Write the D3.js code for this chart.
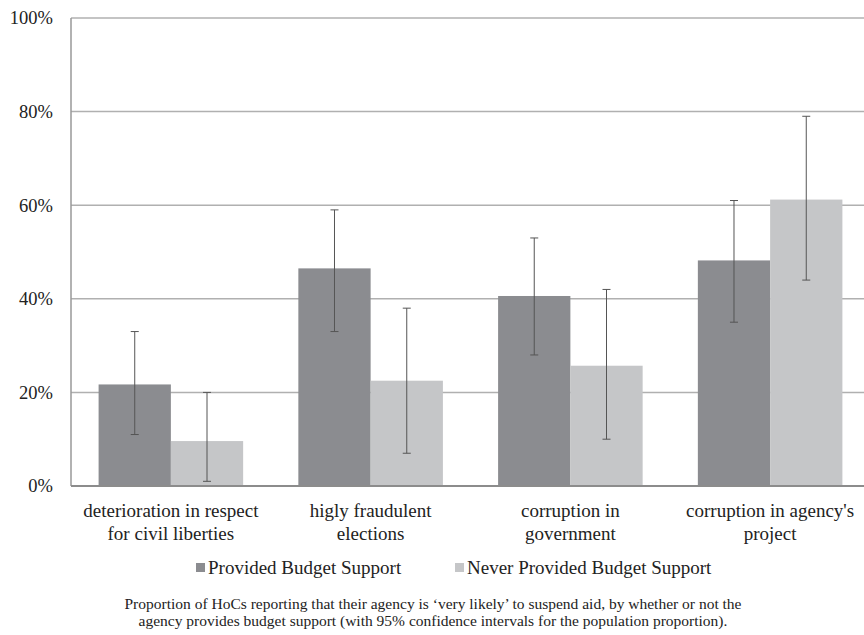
<!DOCTYPE html>
<html>
<head>
<meta charset="utf-8">
<script src="https://cdn.jsdelivr.net/npm/d3@7"></script>
<style>
  body { margin: 0; background: #fff; }
</style>
</head>
<body>
<div id="chart"></div>
<script>
// data
var categories = [
    ["deterioration in respect", "for civil liberties"],
    ["higly fraudulent", "elections"],
    ["corruption in", "government"],
    ["corruption in agency's", "project"]
];
var seriesNames = ["Provided Budget Support", "Never Provided Budget Support"];
var provided = [0.217, 0.465, 0.406, 0.482];
var providedLow = [0.11, 0.33, 0.28, 0.35];
var providedHigh = [0.33, 0.59, 0.53, 0.61];
var never = [0.096, 0.225, 0.257, 0.612];
var neverLow = [0.01, 0.07, 0.10, 0.44];
var neverHigh = [0.20, 0.38, 0.42, 0.79];
var yTicks = [0, 0.2, 0.4, 0.6, 0.8, 1];
var colors = ["#8b8c90", "#c5c6c8"];

const serif = "'Liberation Serif', 'Times New Roman', Times, 'DejaVu Serif', serif";

let width = 864, height = 635;
let plot = { left: 71, right: 870, top: 18, bottom: 486 };

let svg = d3.select("#chart")
    .append("svg")
    .attr("width", width)
    .attr("height", height)
    .style("font-family", serif);

let catKeys = categories.map((c, i) => "c" + i);
let x0 = d3.scaleBand().domain(catKeys).range([plot.left, plot.right]);
let x1 = d3.scaleBand().domain(seriesNames).range([27.6, x0.bandwidth() - 27.6]);
let y = d3.scaleLinear().domain([0, 1]).range([plot.bottom, plot.top]);

// gridlines
svg.append("g")
    .selectAll("line")
    .data(yTicks.filter(t => t > 0))
    .enter()
    .append("line")
    .attr("x1", plot.left)
    .attr("x2", plot.right)
    .attr("y1", d => y(d))
    .attr("y2", d => y(d))
    .attr("stroke", "#b0b0b0")
    .attr("stroke-width", 1.5);

// y axis labels
let yAxis = d3.axisLeft(y).tickValues(yTicks).tickFormat(d => Math.round(d * 100) + "%").tickSize(0).tickPadding(18);
let gy = svg.append("g")
    .attr("transform", "translate(" + plot.left + ",0)")
    .call(yAxis)
    .attr("font-family", null)
    .attr("font-size", null);
gy.select(".domain").remove();
gy.selectAll("text")
    .style("font-family", serif)
    .style("font-size", "18.5px")
    .attr("fill", "#222");

// bars
let rows = categories.map((c, i) => ({
    key: catKeys[i],
    vals: [
        { s: seriesNames[0], v: provided[i], lo: providedLow[i], hi: providedHigh[i], c: colors[0] },
        { s: seriesNames[1], v: never[i], lo: neverLow[i], hi: neverHigh[i], c: colors[1] }
    ]
}));

let groups = svg.append("g")
    .selectAll("g")
    .data(rows)
    .enter()
    .append("g")
    .attr("transform", d => "translate(" + x0(d.key) + ",0)");

groups.selectAll("rect")
    .data(d => d.vals)
    .enter()
    .append("rect")
    .attr("x", d => x1(d.s))
    .attr("y", d => y(d.v))
    .attr("width", x1.bandwidth())
    .attr("height", d => y(0) - y(d.v))
    .attr("fill", d => d.c);

// error bars
let err = groups.selectAll("g.err")
    .data(d => d.vals)
    .enter()
    .append("g")
    .attr("class", "err")
    .attr("stroke", "#555")
    .attr("stroke-width", 1);
err.append("line")
    .attr("x1", d => x1(d.s) + x1.bandwidth() / 2)
    .attr("x2", d => x1(d.s) + x1.bandwidth() / 2)
    .attr("y1", d => y(d.lo))
    .attr("y2", d => y(d.hi));
err.append("line")
    .attr("x1", d => x1(d.s) + x1.bandwidth() / 2 - 4)
    .attr("x2", d => x1(d.s) + x1.bandwidth() / 2 + 4)
    .attr("y1", d => y(d.lo))
    .attr("y2", d => y(d.lo));
err.append("line")
    .attr("x1", d => x1(d.s) + x1.bandwidth() / 2 - 4)
    .attr("x2", d => x1(d.s) + x1.bandwidth() / 2 + 4)
    .attr("y1", d => y(d.hi))
    .attr("y2", d => y(d.hi));

// axis lines
svg.append("line")
    .attr("x1", plot.left).attr("x2", plot.left)
    .attr("y1", plot.top).attr("y2", plot.bottom)
    .attr("stroke", "#999").attr("stroke-width", 1.5);
svg.append("line")
    .attr("x1", plot.left).attr("x2", plot.right)
    .attr("y1", plot.bottom).attr("y2", plot.bottom)
    .attr("stroke", "#8c8c8c").attr("stroke-width", 2);

// category labels
let catLabels = svg.append("g")
    .selectAll("text")
    .data(rows)
    .enter()
    .append("text")
    .attr("text-anchor", "middle")
    .style("font-size", "19px")
    .attr("fill", "#222")
    .attr("x", d => x0(d.key) + x0.bandwidth() / 2)
    .attr("y", 517);
catLabels.selectAll("tspan")
    .data((d, i) => categories[i])
    .enter()
    .append("tspan")
    .attr("x", function () { return d3.select(this.parentNode).attr("x"); })
    .attr("dy", (d, i) => i === 0 ? 0 : 23)
    .text(d => d);

// legend
let legendX = [196, 455];
let legend = svg.append("g")
    .selectAll("g")
    .data(seriesNames)
    .enter()
    .append("g")
    .attr("transform", (d, i) => "translate(" + legendX[i] + ",568)");
legend.append("rect")
    .attr("x", 0).attr("y", -5)
    .attr("width", 9).attr("height", 9)
    .attr("fill", (d, i) => colors[i]);
legend.append("text")
    .attr("x", 12).attr("y", 6)
    .attr("fill", "#222")
    .style("font-size", "19px")
    .text(d => d);

// caption
let caption = [
    "Proportion of HoCs reporting that their agency is \u2018very likely\u2019 to suspend aid, by whether or not the",
    "agency provides budget support (with 95% confidence intervals for the population proportion)."
];
svg.append("g")
    .selectAll("text")
    .data(caption)
    .enter()
    .append("text")
    .attr("text-anchor", "middle")
    .attr("fill", "#222")
    .attr("x", 433)
    .attr("y", (d, i) => 609 + i * 17)
    .style("font-size", "15.5px")
    .text(d => d);
</script>
</body>
</html>
